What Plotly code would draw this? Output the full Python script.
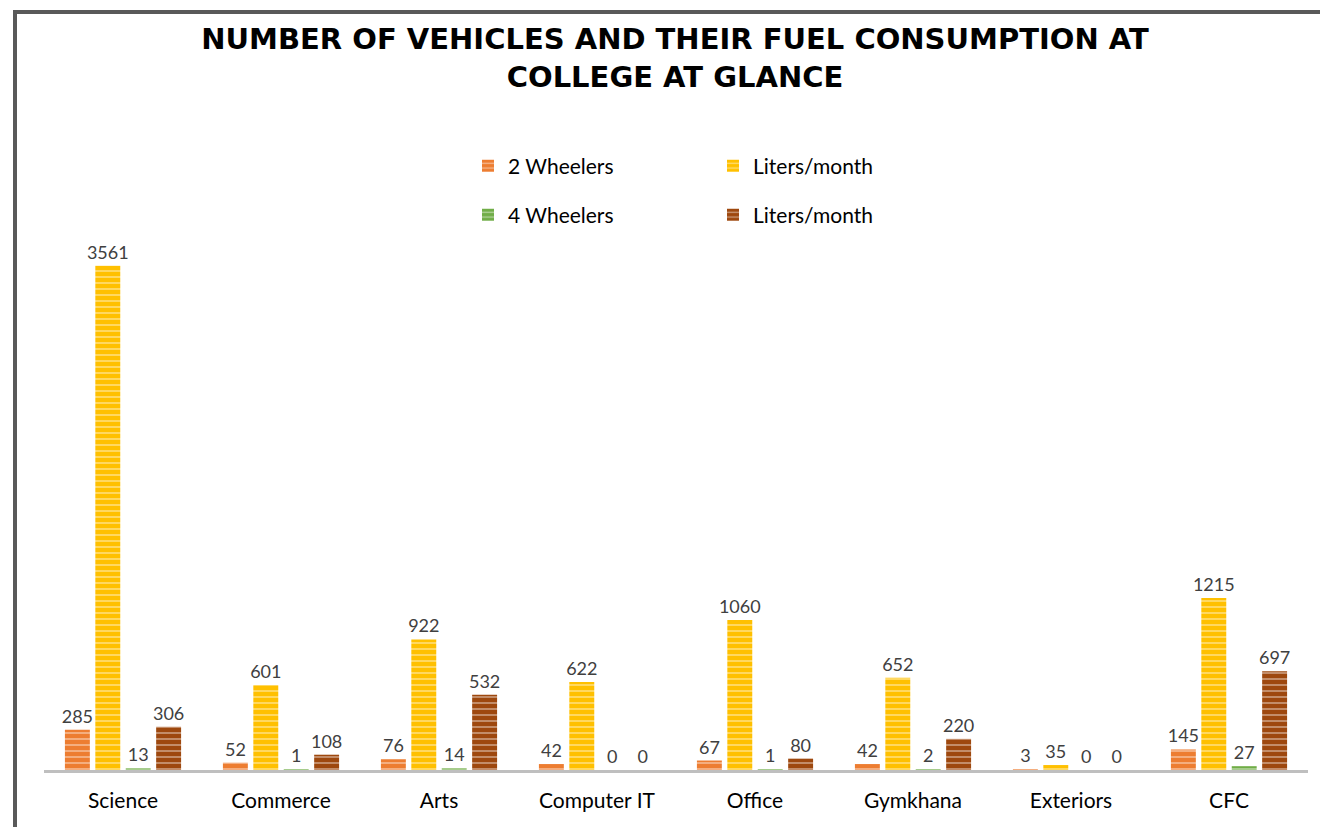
import plotly.graph_objects as go

categories = ["Science", "Commerce", "Arts", "Computer IT", "Office", "Gymkhana", "Exteriors", "CFC"]
two_wheelers = [285, 52, 76, 42, 67, 42, 3, 145]
liters_two = [3561, 601, 922, 622, 1060, 652, 35, 1215]
four_wheelers = [13, 1, 14, 0, 1, 2, 0, 27]
liters_four = [306, 108, 532, 0, 80, 220, 0, 697]

series = [
    ("2 Wheelers", two_wheelers, "#ED7D31", "legend"),
    ("Liters/month", liters_two, "#FFC000", "legend"),
    ("4 Wheelers", four_wheelers, "#70AD47", "legend2"),
    ("Liters/month", liters_four, "#9E480E", "legend2"),
]

FONT = "Lato"
OFF = 8  # browser body margin
W, H = 1328 - OFF, 827 - OFF
# target pixel positions (reference coords) converted to figure coords
L = 44 - OFF
T = 232 - OFF
R = W - (1308 - OFF)
B = H - (770 - OFF)

fig = go.Figure()
for name, vals, color, leg in series:
    fig.add_trace(go.Bar(
        x=categories, y=vals, name=name, legend=leg,
        marker=dict(color=color, line=dict(width=0),
                    pattern=dict(shape="-", fgcolor="white", size=6, solidity=0.25, fillmode="overlay")),
        text=[str(v) for v in vals], textposition="outside", constraintext="none",
        textfont=dict(family=FONT, size=18, color="#404040"),
        cliponaxis=False,
    ))

pw = W - L - R
ph = H - T - B


def px_x(x):
    return (x - OFF - L) / pw


def px_y(y):
    return 1 - (y - OFF - T) / ph


fig.update_layout(
    width=W, height=H,
    margin=dict(l=L, r=R, t=T, b=B),
    paper_bgcolor="white", plot_bgcolor="white",
    barmode="group", bargap=0.23, bargroupgap=0.18,
    title=dict(text="<b>NUMBER OF VEHICLES AND THEIR FUEL CONSUMPTION AT<br>COLLEGE AT GLANCE</b>",
               x=px_x(675), xref="paper", xanchor="center",
               y=1 - (49 - OFF) / H, yanchor="middle",
               font=dict(family="DejaVu Sans", size=29, color="black")),
    font=dict(family=FONT, color="black"),
    legend=dict(orientation="h", x=px_x(468), xanchor="left", y=px_y(166), yanchor="middle",
                entrywidth=200, font=dict(family=FONT, size=21, color="black"), itemwidth=30,
                bgcolor="rgba(0,0,0,0)"),
    legend2=dict(orientation="h", x=px_x(468), xanchor="left", y=px_y(215), yanchor="middle",
                 entrywidth=200, font=dict(family=FONT, size=21, color="black"), itemwidth=30,
                 bgcolor="rgba(0,0,0,0)"),
    xaxis=dict(showline=True, linecolor="#BFBFBF", linewidth=3, ticks="", showgrid=False,
               ticklabelstandoff=10, tickfont=dict(family=FONT, size=21, color="black")),
    yaxis=dict(range=[0, 3800], visible=False, showgrid=False, zeroline=False),
    shapes=[
        dict(type="line", xref="paper", yref="paper",
             x0=px_x(15), x1=px_x(15), y0=px_y(840), y1=px_y(12),
             line=dict(color="#595959", width=4)),
        dict(type="line", xref="paper", yref="paper",
             x0=px_x(13), x1=px_x(1340), y0=px_y(12), y1=px_y(12),
             line=dict(color="#595959", width=4)),
    ],
)

fig.write_html("out.html")
